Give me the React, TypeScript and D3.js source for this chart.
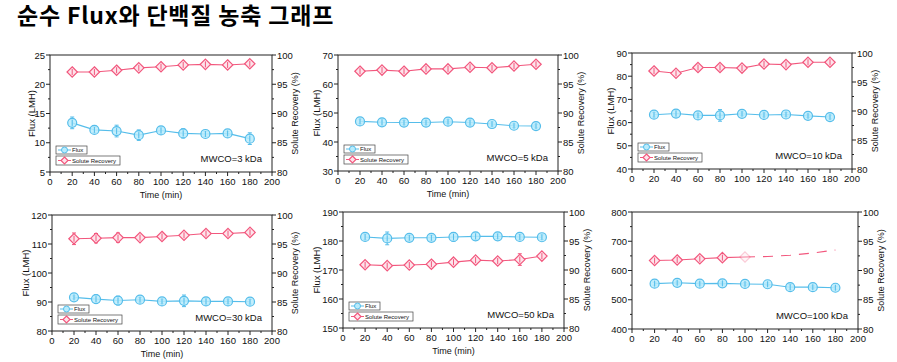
import React from "react"
import { scaleLinear, line, range } from "d3"

const times = [20, 40, 60, 80, 100, 120, 140, 160, 180]
const timeTicks = [0, 20, 40, 60, 80, 100, 120, 140, 160, 180, 200]
const recoveryTicks = [80, 85, 90, 95, 100]

const flux3 = [13.4, 12.2, 12.0, 11.3, 12.1, 11.6, 11.5, 11.6, 10.7]
const flux3Err = [1.0, 0.5, 1.0, 0.9, 0.6, 0.8, 0.4, 0.3, 1.0]
const rec3 = [97.1, 97.1, 97.4, 97.8, 98.0, 98.3, 98.4, 98.3, 98.5]
const rec3Err = [0.5, 0.3, 0.3, 0.2, 0.3, 0.3, 0.3, 0.3, 0.2]

const flux5 = [47.1, 46.8, 46.7, 46.7, 47.0, 46.7, 46.2, 45.6, 45.5]
const flux5Err = [0.8, 1.2, 0.8, 0.6, 0.7, 0.9, 0.7, 0.6, 0.6]
const rec5 = [97.2, 97.4, 97.2, 97.6, 97.6, 97.9, 97.8, 98.1, 98.4]
const rec5Err = [0.3, 0.3, 0.3, 0.3, 0.3, 0.3, 0.3, 0.6, 0.3]

const flux10 = [63.4, 63.9, 63.1, 63.1, 63.8, 63.3, 63.5, 62.9, 62.4]
const flux10Err = [1.0, 1.5, 0.8, 2.5, 0.8, 0.8, 0.8, 0.7, 0.8]
const rec10 = [96.9, 96.5, 97.5, 97.5, 97.4, 98.1, 98.0, 98.4, 98.4]
const rec10Err = [0.5, 0.4, 0.3, 0.3, 0.3, 0.3, 0.3, 0.3, 0.3]

const flux30 = [91.6, 91.0, 90.5, 90.8, 90.2, 90.4, 90.2, 90.2, 90.1]
const flux30Err = [0.5, 1.5, 1.5, 0.8, 0.8, 2.0, 1.2, 0.8, 0.8]
const rec30 = [95.9, 96.0, 96.1, 96.1, 96.3, 96.5, 96.8, 96.8, 97.0]
const rec30Err = [1.0, 0.8, 0.8, 0.4, 0.4, 0.4, 0.4, 0.4, 0.3]

const flux50 = [181.4, 180.9, 181.1, 181.1, 181.4, 181.6, 181.6, 181.4, 181.3]
const flux50Err = [1.0, 2.2, 0.8, 0.8, 1.5, 1.2, 0.8, 0.8, 0.8]
const rec50 = [90.9, 90.75, 90.85, 91.0, 91.35, 91.7, 91.55, 91.8, 92.4]
const rec50Err = [0.5, 0.4, 0.4, 0.6, 0.5, 0.6, 0.4, 1.0, 0.3]

const flux100 = [555, 558, 555, 556, 554, 553, 543, 543, 541]
const flux100Err = [5, 5, 5, 5, 5, 5, 10, 5, 5]
const rec100 = [91.7, 91.8, 92.0, 92.2, 92.3, 92.4, 92.6, 93.0, 93.5]
const rec100Err = [0.2, 0.2, 0.2, 0.2, 0.2, 0, 0, 0, 0]

const panels = [
  { label: "MWCO=3 kDa", left: 50, right: 272, top: 55, bottom: 172, yTitleGap: 15, fluxDomain: [5, 25], fluxStep: 5, flux: flux3, fluxErr: flux3Err, rec: rec3, recErr: rec3Err, legend: true, fluxTitle: true, timeTitle: true },
  { label: "MWCO=5 kDa", left: 338, right: 558, top: 55, bottom: 171, yTitleGap: 18.5, fluxDomain: [30, 70], fluxStep: 10, flux: flux5, fluxErr: flux5Err, rec: rec5, recErr: rec5Err, legend: true, fluxTitle: true, timeTitle: true },
  { label: "MWCO=10 kDa", left: 632, right: 852, top: 53, bottom: 169, yTitleGap: 18.5, fluxDomain: [40, 90], fluxStep: 10, flux: flux10, fluxErr: flux10Err, rec: rec10, recErr: rec10Err, legend: true, fluxTitle: true, timeTitle: false },
  { label: "MWCO=30 kDa", left: 52, right: 272, top: 215, bottom: 331, yTitleGap: 23.5, fluxDomain: [80, 120], fluxStep: 10, flux: flux30, fluxErr: flux30Err, rec: rec30, recErr: rec30Err, legend: true, fluxTitle: true, timeTitle: true },
  { label: "MWCO=50 kDa", left: 343, right: 564, top: 212, bottom: 328, yTitleGap: 23.5, fluxDomain: [150, 190], fluxStep: 10, flux: flux50, fluxErr: flux50Err, rec: rec50, recErr: rec50Err, legend: true, fluxTitle: true, timeTitle: true },
  { label: "MWCO=100 kDa", left: 632, right: 858, top: 212, bottom: 329, yTitleGap: 23.5, fluxDomain: [400, 800], fluxStep: 100, flux: flux100, fluxErr: flux100Err, rec: rec100, recErr: rec100Err, legend: false, fluxTitle: false, timeTitle: false, dashFrom: 4 },
]

const FLUX = "#55bdea"
const FLUX_FILL = "#b9ebfb"
const REC = "#f2577d"
const REC_FILL = "#fde3ea"
const FONT = "'Liberation Sans', Arial, sans-serif"

function Diamond({ x, y, r, stroke, fill }) {
  return <path d={`M${x},${y - r}L${x + r},${y}L${x},${y + r}L${x - r},${y}Z`} fill={fill} stroke={stroke} strokeWidth={1.2} />
}

function Panel({ p }) {
  const x = scaleLinear().domain([0, 200]).range([p.left, p.right])
  const yL = scaleLinear().domain(p.fluxDomain).range([p.bottom, p.top])
  const yR = scaleLinear().domain([80, 100]).range([p.bottom, p.top])
  const leftTicks = range(p.fluxDomain[0], p.fluxDomain[1] + 0.001, p.fluxStep)
  const leftMinor = range(p.fluxDomain[0] + p.fluxStep / 2, p.fluxDomain[1], p.fluxStep)
  const xMinor = range(10, 200, 20)
  const rMinor = range(82.5, 100, 5)

  const fluxLine = line().x((d, i) => x(times[i])).y(d => yL(d))
  const recLine = line().x((d, i) => x(times[i])).y(d => yR(d))
  const dashFrom = p.dashFrom ?? times.length
  const solidRec = p.rec.slice(0, dashFrom + 1)
  const dashedRec = p.rec.slice(dashFrom)
  const dashedLine = line().x((d, i) => x(times[i + dashFrom])).y(d => yR(d))

  const lgX = p.left + 6
  const lgY = p.bottom - 26
  return (
    <g fontFamily={FONT}>
      <rect x={p.left} y={p.top} width={p.right - p.left} height={p.bottom - p.top} fill="none" stroke="#222" strokeWidth={1} />
      {/* left axis */}
      {leftTicks.map(t => (
        <g key={"l" + t}>
          <line x1={p.left - 4} x2={p.left} y1={yL(t)} y2={yL(t)} stroke="#222" />
          <text x={p.left - 5} y={yL(t) + 3.5} fontSize={9.5} textAnchor="end" fill="#111">{t}</text>
        </g>
      ))}
      {leftMinor.map(t => <line key={"lm" + t} x1={p.left - 2} x2={p.left} y1={yL(t)} y2={yL(t)} stroke="#222" />)}
      {/* right axis */}
      {recoveryTicks.map(t => (
        <g key={"r" + t}>
          <line x1={p.right} x2={p.right + 4} y1={yR(t)} y2={yR(t)} stroke="#222" />
          <text x={p.right + 5} y={yR(t) + 3.5} fontSize={9.5} fill="#111">{t}</text>
        </g>
      ))}
      {rMinor.map(t => <line key={"rm" + t} x1={p.right} x2={p.right + 2} y1={yR(t)} y2={yR(t)} stroke="#222" />)}
      {/* bottom axis */}
      {timeTicks.map(t => (
        <g key={"b" + t}>
          <line x1={x(t)} x2={x(t)} y1={p.bottom} y2={p.bottom + 4} stroke="#222" />
          <text x={x(t)} y={p.bottom + 13} fontSize={9.5} textAnchor="middle" fill="#111">{t}</text>
        </g>
      ))}
      {xMinor.map(t => <line key={"bm" + t} x1={x(t)} x2={x(t)} y1={p.bottom} y2={p.bottom + 2} stroke="#222" />)}
      {p.fluxTitle && (
        <text transform={`translate(${p.left - p.yTitleGap},${(p.top + p.bottom) / 2}) rotate(-90)`} fontSize={9.5} textAnchor="middle" fill="#111">Flux (LMH)</text>
      )}
      <text transform={`translate(${p.right + 26},${(p.top + p.bottom) / 2}) rotate(-90)`} fontSize={9} textAnchor="middle" fill="#111">Solute Recovery (%)</text>
      {p.timeTitle && (
        <text x={(p.left + p.right) / 2} y={p.bottom + 26} fontSize={9} textAnchor="middle" fill="#111">Time (min)</text>
      )}
      <text x={p.right - 10} y={p.bottom - 10} fontSize={9.5} textAnchor="end" fill="#111">{p.label}</text>

      {/* flux series */}
      <path d={fluxLine(p.flux)} fill="none" stroke={FLUX} strokeWidth={1.1} />
      {p.flux.map((v, i) => (
        <g key={"f" + i}>
          <line x1={x(times[i])} x2={x(times[i])} y1={yL(v - p.fluxErr[i])} y2={yL(v + p.fluxErr[i])} stroke={FLUX} />
          <line x1={x(times[i]) - 2} x2={x(times[i]) + 2} y1={yL(v - p.fluxErr[i])} y2={yL(v - p.fluxErr[i])} stroke={FLUX} />
          <line x1={x(times[i]) - 2} x2={x(times[i]) + 2} y1={yL(v + p.fluxErr[i])} y2={yL(v + p.fluxErr[i])} stroke={FLUX} />
          <circle cx={x(times[i])} cy={yL(v)} r={4.5} fill={FLUX_FILL} fillOpacity={0.85} stroke={FLUX} strokeWidth={1.2} />
          <line x1={x(times[i])} x2={x(times[i])} y1={yL(v) - 3} y2={yL(v) + 3} stroke={FLUX} />
        </g>
      ))}

      {/* recovery series */}
      <path d={recLine(solidRec)} fill="none" stroke={REC} strokeWidth={1.1} />
      {dashedRec.length > 1 && (
        <path d={dashedLine(dashedRec)} fill="none" stroke={REC} strokeWidth={1.1} strokeDasharray="10,8" />
      )}
      {p.rec.map((v, i) => {
        if (i > dashFrom) return null
        const faded = i === dashFrom
        const e = p.recErr[i]
        return (
          <g key={"r" + i} opacity={faded ? 0.3 : 1}>
            {e > 0 && !faded && (
              <g>
                <line x1={x(times[i])} x2={x(times[i])} y1={yR(v - e)} y2={yR(v + e)} stroke={REC} />
                <line x1={x(times[i]) - 2} x2={x(times[i]) + 2} y1={yR(v - e)} y2={yR(v - e)} stroke={REC} />
                <line x1={x(times[i]) - 2} x2={x(times[i]) + 2} y1={yR(v + e)} y2={yR(v + e)} stroke={REC} />
              </g>
            )}
            <Diamond x={x(times[i])} y={yR(v)} r={5.2} stroke={REC} fill={REC_FILL} />
            {!faded && <line x1={x(times[i])} x2={x(times[i])} y1={yR(v) - 3} y2={yR(v) + 3} stroke={REC} />}
          </g>
        )
      })}

      {p.legend && (
        <g>
          <rect x={lgX} y={lgY} width={31} height={8} fill="#fff" stroke="#444" strokeWidth={0.7} />
          <line x1={lgX + 2} x2={lgX + 15} y1={lgY + 4} y2={lgY + 4} stroke={FLUX} />
          <circle cx={lgX + 8.5} cy={lgY + 4} r={3} fill={FLUX_FILL} stroke={FLUX} />
          <text x={lgX + 16} y={lgY + 6.3} fontSize={6} fill="#111">Flux</text>
          <rect x={lgX} y={lgY + 10} width={64} height={9} fill="#fff" stroke="#444" strokeWidth={0.7} />
          <line x1={lgX + 2} x2={lgX + 15} y1={lgY + 14.5} y2={lgY + 14.5} stroke={REC} />
          <Diamond x={lgX + 8.5} y={lgY + 14.5} r={3.5} stroke={REC} fill={REC_FILL} />
          <text x={lgX + 16} y={lgY + 16.8} fontSize={6} fill="#111">Solute Recovery</text>
        </g>
      )}
    </g>
  )
}

export default function App() {
  return (
    <svg width={897} height={362} style={{ position: "absolute", left: 0, top: 0, background: "#fff" }}>
      <rect width={897} height={362} fill="#fff" />
      <text x={17} y={24} fontSize={23} letterSpacing={0.8} fontWeight="bold" fontFamily="'Noto Sans CJK KR', sans-serif" fill="#000">순수 Flux와 단백질 농축 그래프</text>
      {panels.map((p, i) => <Panel key={i} p={p} />)}
    </svg>
  )
}
